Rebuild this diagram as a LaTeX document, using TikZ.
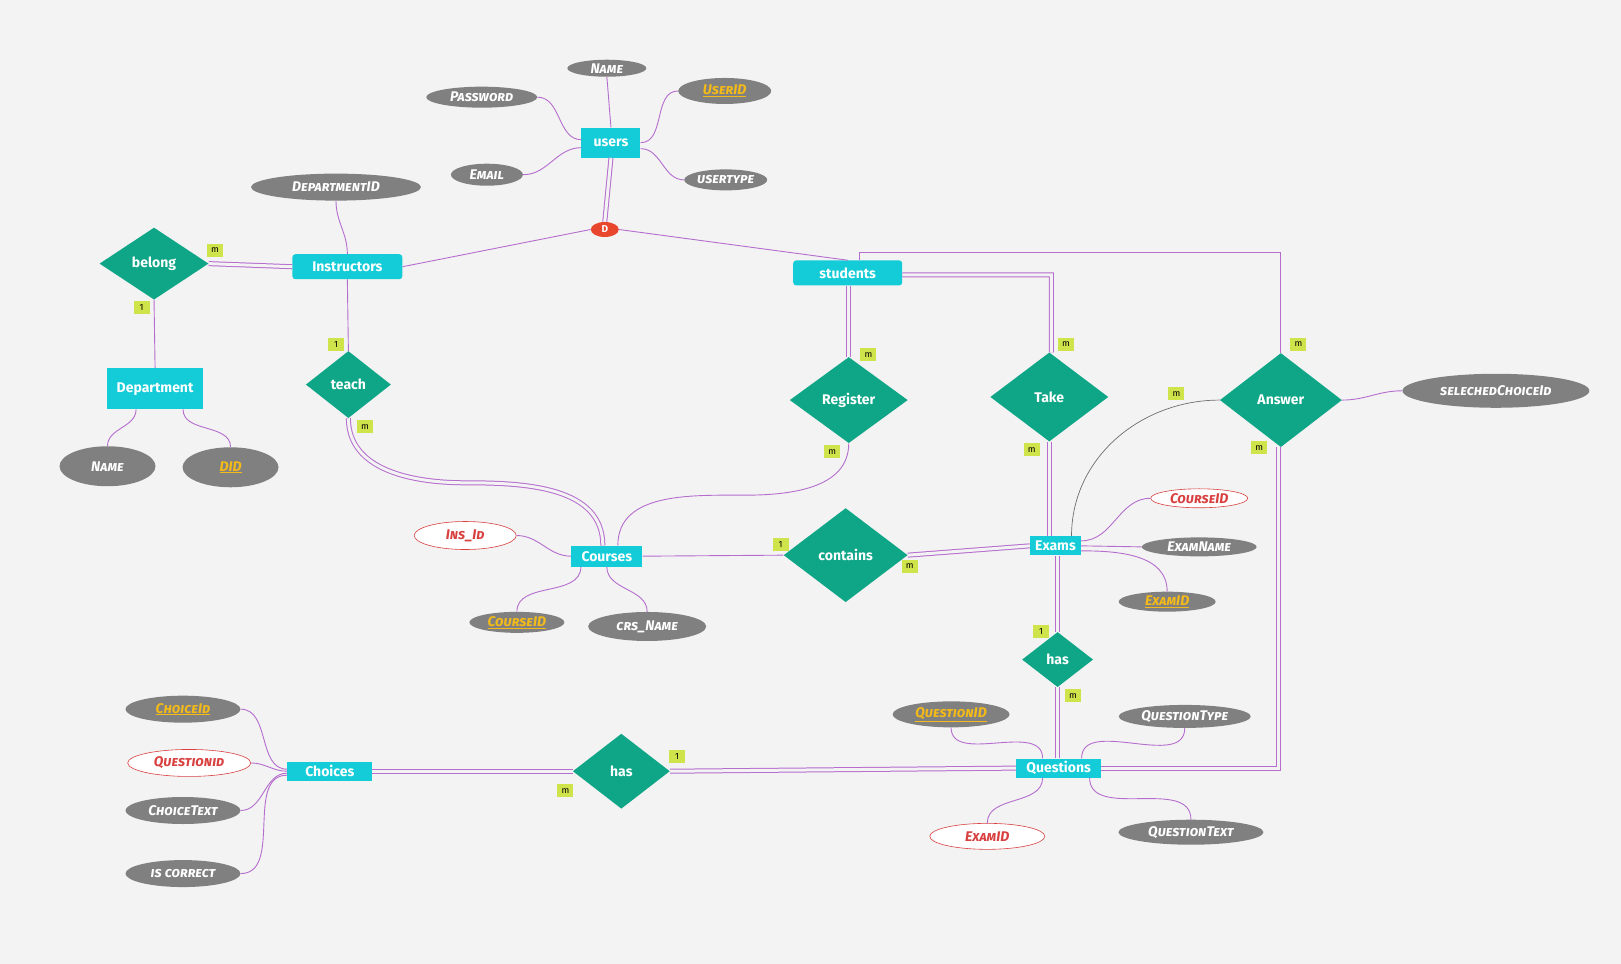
\documentclass[tikz,border=0pt]{standalone}
\usepackage{fontspec}
\setmainfont{Fira Sans}
\newfontfamily\attrfont{Fira Sans}[Letters=SmallCaps]
\usetikzlibrary{shapes.geometric,calc}

\definecolor{bgcol}{HTML}{F3F3F3}
\definecolor{entcol}{HTML}{14CCD7}
\definecolor{relcol}{HTML}{0FA687}
\definecolor{attrcol}{HTML}{808080}
\definecolor{keycol}{HTML}{F4BA18}
\definecolor{fkcol}{HTML}{D94040}
\definecolor{linkcol}{HTML}{B56DCE}
\definecolor{cardcol}{HTML}{CFE34B}
\definecolor{discol}{HTML}{E8472D}
\definecolor{arccol}{HTML}{6E6E6E}

\tikzset{
  entity/.style={rectangle, fill=entcol, text=white, inner sep=0pt, font=\fontsize{14}{16}\selectfont\bfseries},
  rel/.style={diamond, fill=relcol, text=white, inner sep=0pt, font=\fontsize{14}{16}\selectfont\bfseries},
  attr/.style={ellipse, fill=attrcol, text=white, inner sep=0pt, font=\attrfont\fontsize{14}{16}\selectfont\bfseries\itshape},
  keyattr/.style={attr, text=keycol},
  fkattr/.style={attr, fill=white, draw=fkcol, text=fkcol, line width=0.6pt},
  card/.style={rectangle, fill=cardcol, text=black, inner sep=0pt, minimum width=16pt, minimum height=13pt, font=\fontsize{9}{10}\selectfont},
  link/.style={draw=linkcol, line width=0.9pt},
  dlink/.style={draw=linkcol, line width=1pt, double=bgcol, double distance=3pt},
}

\begin{document}
\begin{tikzpicture}[x=1.034pt, y=-1.034pt]

% Background
\fill[bgcol] (0,0) rectangle (1568,932);

% Entities
\node[entity, minimum width=59pt, minimum height=30pt] (users) at (591,138) {users};
\node[entity, rounded corners=3pt, minimum width=110pt, minimum height=25pt] (instructors) at (336,258) {Instructors};
\node[entity, rounded corners=3pt, minimum width=109pt, minimum height=25pt] (students) at (820,264) {students};
\node[entity, minimum width=96pt, minimum height=41pt] (department) at (150,376) {Department};
\node[entity, minimum width=71pt, minimum height=21pt] (courses) at (587,538) {Courses};
\node[entity, minimum width=51pt, minimum height=19pt] (exams) at (1021,528) {Exams};
\node[entity, minimum width=85pt, minimum height=19pt] (questions) at (1024,743) {Questions};
\node[entity, minimum width=85pt, minimum height=19pt] (choices) at (319,746) {Choices};

% Relationships
\node[rel, minimum width=109pt, minimum height=72pt] (belong) at (149,255) {belong};
\node[rel, minimum width=85pt, minimum height=67pt] (teach) at (337,372) {teach};
\node[rel, minimum width=118pt, minimum height=86pt] (register) at (821,387) {Register};
\node[rel, minimum width=118pt, minimum height=89pt] (take) at (1015,384) {Take};
\node[rel, minimum width=122pt, minimum height=94pt] (answer) at (1239,387) {Answer};
\node[rel, minimum width=124pt, minimum height=94pt] (contains) at (818,537) {contains};
\node[rel, minimum width=71pt, minimum height=55pt] (hasq) at (1023,638) {has};
\node[rel, minimum width=97pt, minimum height=75pt] (hasc) at (601,746) {has};

% Disjoint marker
\node[ellipse, fill=discol, text=white, inner sep=0pt, minimum width=28pt, minimum height=15pt, font=\fontsize{10}{11}\selectfont\bfseries] (disj) at (585,222) {D};

% Attributes
\node[attr, minimum width=79pt, minimum height=17pt] (uname) at (587,66) {Name};
\node[attr, minimum width=111pt, minimum height=21pt] (upass) at (466,94) {Password};
\node[keyattr, minimum width=93pt, minimum height=26pt] (uid) at (701,88) {\underline{UserID}};
\node[attr, minimum width=72pt, minimum height=22pt] (uemail) at (471,169) {Email};
\node[attr, minimum width=83pt, minimum height=21pt] (utype) at (702,174) {usertype};
\node[attr, minimum width=170pt, minimum height=27pt] (deptid) at (325,181) {DepartmentID};
\node[attr, minimum width=96pt, minimum height=40pt] (dname) at (104,451) {Name};
\node[keyattr, minimum width=96pt, minimum height=40pt] (did) at (223,452) {\underline{DID}};
\node[fkattr, minimum width=102pt, minimum height=28pt] (insid) at (450,518) {Ins\_Id};
\node[keyattr, minimum width=95pt, minimum height=21pt] (crsid) at (500,602) {\underline{CourseID}};
\node[attr, minimum width=118pt, minimum height=29pt] (crsname) at (626,606) {crs\_Name};
\node[fkattr, minimum width=97pt, minimum height=19pt] (excrsid) at (1160,482) {CourseID};
\node[attr, minimum width=115pt, minimum height=19pt] (exname) at (1160,529) {ExamName};
\node[keyattr, minimum width=97pt, minimum height=20pt] (exid) at (1129,582) {\underline{ExamID}};
\node[attr, minimum width=187pt, minimum height=34pt] (selchoice) at (1447,378) {selechedChoiceId};
\node[keyattr, minimum width=117pt, minimum height=26pt] (qid) at (920,691) {\underline{QuestionID}};
\node[attr, minimum width=132pt, minimum height=23pt] (qtype) at (1146,693) {QuestionType};
\node[fkattr, minimum width=115pt, minimum height=26pt] (qexid) at (955,809) {ExamID};
\node[attr, minimum width=145pt, minimum height=25pt] (qtext) at (1152,805) {QuestionText};
\node[keyattr, minimum width=115pt, minimum height=27pt] (chid) at (177,686) {\underline{ChoiceId}};
\node[fkattr, minimum width=123pt, minimum height=27pt] (chqid) at (183,738) {Questionid};
\node[attr, minimum width=115pt, minimum height=27pt] (chtext) at (177,784) {ChoiceText};
\node[attr, minimum width=115pt, minimum height=27pt] (chcorrect) at (177,845) {is correct};

% Users and its attributes
\draw[link] (uname.south) to[out=-85,in=95] (users.north);
\draw[link] (upass.east) to[out=0,in=180] ([yshift=3pt]users.west);
\draw[link] (uemail.east) to[out=0,in=180] ([yshift=-5pt]users.west);
\draw[link] (uid.west) to[out=180,in=0] (users.east);
\draw[link] (utype.west) to[out=180,in=0] ([yshift=-6pt]users.east);
\draw[dlink] (users.south) -- (disj.north);
\draw[link] (disj.west) -- (instructors.east);
\draw[link] (disj.east) -- (students.north);

% Instructors and department
\draw[link] (deptid.south) to[out=-90,in=90] (instructors.north);
\draw[dlink] (instructors.west) -- (belong.east);
\draw[link] (belong.south) -- (department.north);
\draw[link] (instructors.south) -- (teach.north);
\draw[link] ([xshift=-19pt]department.south) to[out=-90,in=90] (dname.north);
\draw[link] ([xshift=28pt]department.south) to[out=-90,in=90] (did.north);

% Courses
\coordinate (teachbend) at (450,467);
\coordinate (regbend) at (720,479);
\draw[dlink] (teach.south) to[out=-90,in=180] (teachbend) to[out=0,in=90] ([xshift=-4pt]courses.north);
\draw[link] (register.south) to[out=-90,in=0] (regbend) to[out=180,in=90] ([xshift=11pt]courses.north);
\draw[link] (insid.east) to[out=0,in=180] (courses.west);
\draw[link] ([xshift=-26pt]courses.south) to[out=-90,in=90] (crsid.north);
\draw[link] (courses.south) to[out=-90,in=90] (crsname.north);
\draw[link] (courses.east) -- (contains.west);
\draw[dlink] (contains.east) -- (exams.west);

% Exams
\draw[link] ([yshift=5pt]exams.east) to[out=0,in=180] (excrsid.west);
\draw[link] (exams.east) -- (exname.west);
\draw[link] ([yshift=-5pt]exams.east) to[out=0,in=90] (exid.north);
\draw[dlink] (take.south) -- (take.south |- exams.north);
\draw[dlink] (hasq.north) -- (hasq.north |- exams.south);
\draw[dlink] (hasq.south) -- (hasq.south |- questions.north);

% Students
\coordinate (rail) at (1239,244);
\coordinate (takecorner) at (1017,266);
\coordinate (anscorner) at (1237,743);
\draw[dlink] (register.north) -- (register.north |- students.south);
\draw[dlink] ([yshift=-2pt]students.east) -- (takecorner) -- (take.north -| takecorner);
\draw[link] ([xshift=12pt]students.north) |- (rail) -- (answer.north);
\draw[dlink] (answer.south -| anscorner) -- (anscorner) -- (questions.east);
\draw[link] (answer.east) to[out=0,in=180] (selchoice.west);
\draw[arccol, line width=0.7pt] (answer.west) to[out=180,in=90] ([xshift=16pt]exams.north);

% Questions
\draw[link] (qid.south) to[out=-90,in=90] ([xshift=-16pt]questions.north);
\draw[link] (qtype.south) to[out=-90,in=90] ([xshift=23pt]questions.north);
\draw[link] ([xshift=-16pt]questions.south) to[out=-90,in=90] (qexid.north);
\draw[link] ([xshift=31pt]questions.south) to[out=-90,in=90] (qtext.north);
\draw[dlink] (questions.west) -- (hasc.east);
\draw[dlink] (hasc.west) -- (choices.east);

% Choices
\draw[link] (chid.east) to[out=0,in=180] ([yshift=2pt]choices.west);
\draw[link] (chqid.east) to[out=0,in=180] (choices.west);
\draw[link] (chtext.east) to[out=0,in=180] ([yshift=-2pt]choices.west);
\draw[link] (chcorrect.east) to[out=0,in=180] ([yshift=-4pt]choices.west);

% Cardinalities
\node[card] (cbelongm) at (208,242) {m};
\node[card] (cbelong1) at (137,297) {1};
\node[card] (cteach1) at (325,333) {1};
\node[card] (cteachm) at (353,413) {m};
\node[card] (cregtop) at (840,343) {m};
\node[card] (cregbot) at (805,437) {m};
\node[card] (ctaketop) at (1031,333) {m};
\node[card] (ctakebot) at (998,435) {m};
\node[card] (carc) at (1138,381) {m};
\node[card] (canstop) at (1256,333) {m};
\node[card] (cansbot) at (1218,433) {m};
\node[card] (ccont1) at (755,527) {1};
\node[card] (ccontm) at (880,548) {m};
\node[card] (chasq1) at (1007,611) {1};
\node[card] (chasqm) at (1038,673) {m};
\node[card] (chasc1) at (655,732) {1};
\node[card] (chascm) at (547,765) {m};

\end{tikzpicture}
\end{document}
